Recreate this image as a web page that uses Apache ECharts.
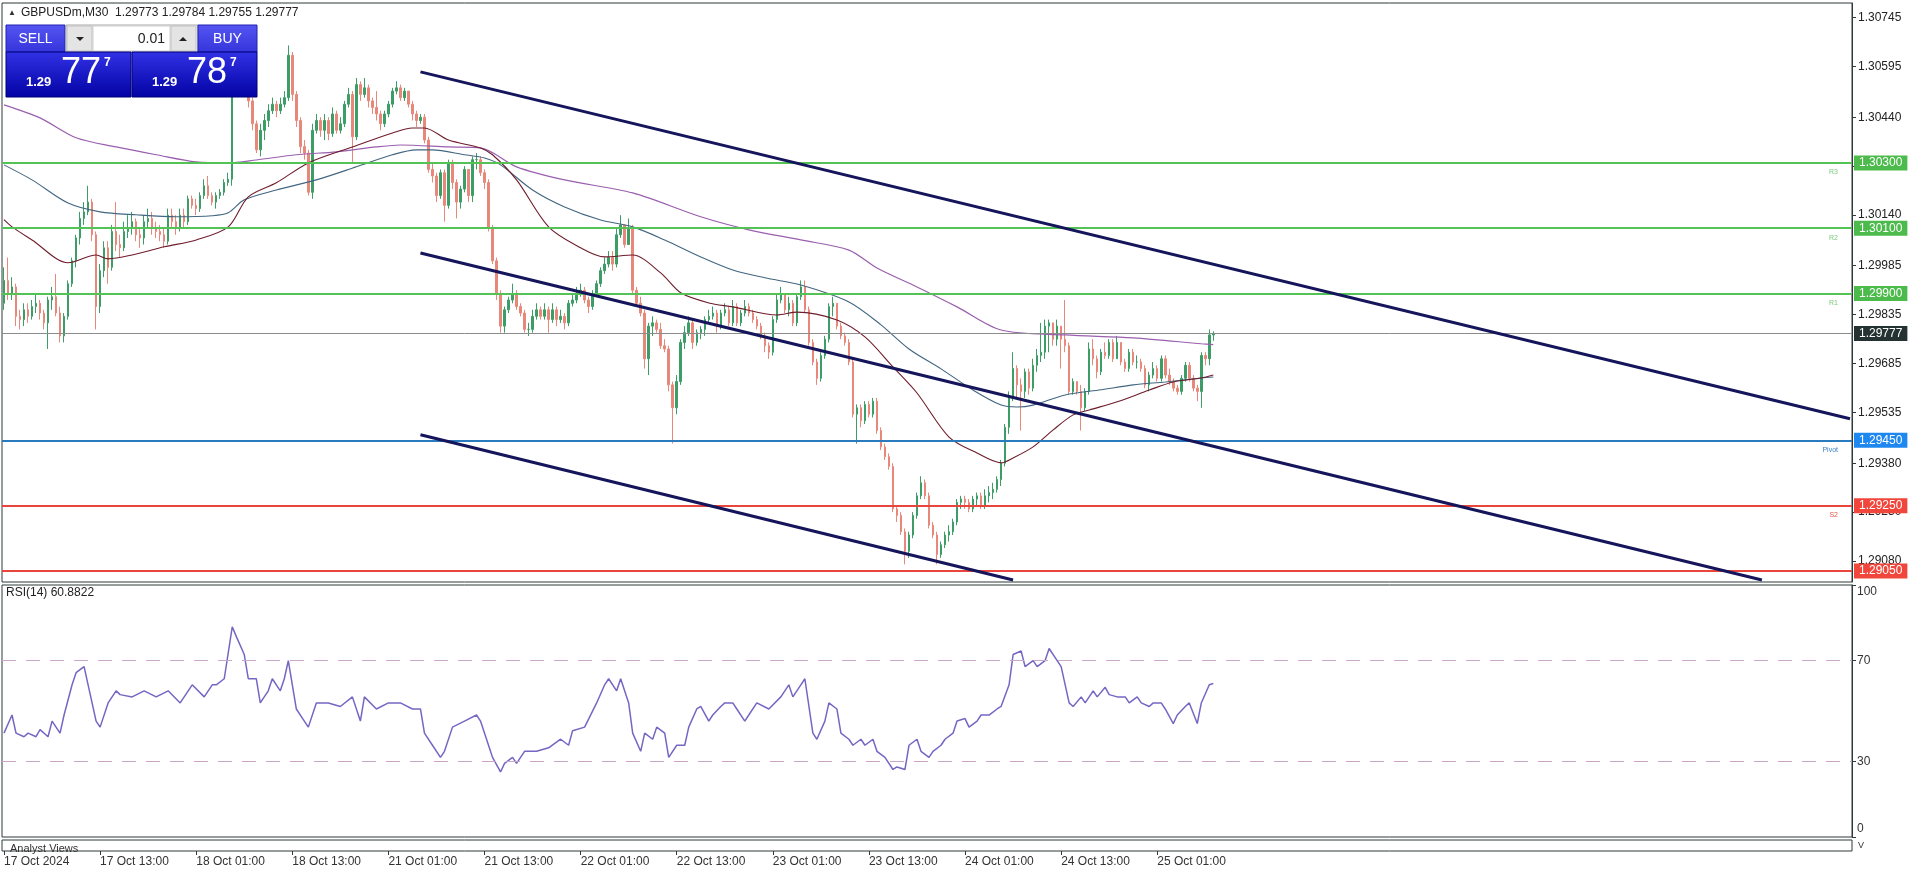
<!DOCTYPE html>
<html><head><meta charset="utf-8">
<script src="https://cdn.jsdelivr.net/npm/echarts@6/dist/echarts.min.js"></script>
<style>html,body{margin:0;padding:0;background:#fff;overflow:hidden}#c{width:1916px;height:874px}</style>
</head><body><div id="c"></div>
<script>
// ---------------- DATA ----------------
const symbolTitle = 'GBPUSDm,M30  1.29773 1.29784 1.29755 1.29777';
const rsiTitle = 'RSI(14) 60.8822';
const tickBars = [0, 24, 48, 72, 96, 120, 144, 168, 192, 216, 240, 264, 288];
const tickLabels = ['17 Oct 2024', '17 Oct 13:00', '18 Oct 01:00', '18 Oct 13:00', '21 Oct 01:00', '21 Oct 13:00',
  '22 Oct 01:00', '22 Oct 13:00', '23 Oct 01:00', '23 Oct 13:00', '24 Oct 01:00', '24 Oct 13:00', '25 Oct 01:00'];
const priceTicks = [1.30745, 1.30595, 1.30440, 1.30290, 1.30140, 1.29985, 1.29835, 1.29685, 1.29535, 1.29380, 1.29230, 1.29080];
const rsiTicks = [0, 30, 70, 100];

const firstOpen = 1.2987;
const closes = [
1.2994,1.2990,1.2992,1.2983,1.2982,1.2985,1.2983,1.2986,1.2987,1.2984,
1.2981,1.2988,1.2989,1.2984,1.2977,1.2983,1.2993,1.3000,1.3007,1.3013,
1.3015,1.3018,1.3008,1.2986,1.2997,1.3004,1.2998,1.3009,1.3005,1.3004,
1.3009,1.3010,1.3012,1.3008,1.3007,1.3012,1.3013,1.3010,1.3009,1.3008,
1.3006,1.3014,1.3012,1.3010,1.3014,1.3012,1.3019,1.3017,1.3016,1.3020,
1.3023,1.3020,1.3018,1.3020,1.3021,1.3024,1.3025,1.3056,1.3061,1.3058,
1.3054,1.3049,1.3042,1.3034,1.3040,1.3043,1.3046,1.3048,1.3046,1.3048,
1.3050,1.3063,1.3051,1.3043,1.3035,1.3033,1.3021,1.3040,1.3043,1.3040,
1.3043,1.3039,1.3045,1.3040,1.3042,1.3048,1.3051,1.3038,1.3054,1.3051,
1.3053,1.3049,1.3047,1.3045,1.3042,1.3045,1.3048,1.3052,1.3053,1.3050,
1.3052,1.3048,1.3045,1.3043,1.3044,1.3037,1.3028,1.3026,1.3020,1.3027,
1.3017,1.3030,1.3024,1.3018,1.3022,1.3028,1.3020,1.3031,1.3031,1.3027,
1.3024,1.3010,1.3000,1.2990,1.2980,1.2985,1.2988,1.2990,1.2986,1.2984,
1.2979,1.2979,1.2983,1.2985,1.2983,1.2985,1.2982,1.2985,1.2982,1.2983,
1.2981,1.2987,1.2988,1.2990,1.2991,1.2988,1.2986,1.2990,1.2993,1.2997,
1.2999,1.3001,1.2999,1.3008,1.3011,1.3005,1.3010,1.2991,1.2987,1.2984,
1.2970,1.2980,1.2981,1.2979,1.2974,1.2973,1.2962,1.2955,1.2963,1.2975,
1.2978,1.2981,1.2975,1.2978,1.2979,1.2982,1.2983,1.2984,1.2980,1.2984,
1.2985,1.2981,1.2986,1.2981,1.2984,1.2986,1.2984,1.2982,1.2980,1.2977,
1.2974,1.2972,1.2982,1.2988,1.2990,1.2985,1.2987,1.2981,1.2989,1.2992,
1.2985,1.2975,1.2969,1.2964,1.2971,1.2976,1.2986,1.2987,1.2980,1.2977,
1.2975,1.2969,1.2953,1.2955,1.2951,1.2956,1.2953,1.2957,1.2948,1.2943,
1.2940,1.2937,1.2924,1.2922,1.2917,1.2911,1.2916,1.2922,1.2928,1.2932,
1.2928,1.2919,1.2916,1.2910,1.2913,1.2916,1.2917,1.2920,1.2926,1.2927,
1.2926,1.2924,1.2927,1.2928,1.2925,1.2928,1.2929,1.2930,1.2933,1.2938,
1.2949,1.2958,1.2967,1.2962,1.2960,1.2966,1.2961,1.2968,1.2971,1.2972,
1.2980,1.2981,1.2976,1.2980,1.2976,1.2974,1.2960,1.2963,1.2960,1.2955,
1.2960,1.2973,1.2970,1.2966,1.2972,1.2971,1.2975,1.2970,1.2975,1.2969,
1.2967,1.2972,1.2969,1.2969,1.2967,1.2962,1.2965,1.2967,1.2964,1.2970,
1.2965,1.2963,1.2961,1.2960,1.2964,1.2968,1.2964,1.2961,1.2960,1.2971,
1.2970,1.29773,1.29777];
const highs = [
1.2998,1.3001,1.2995,1.2993,1.2985,1.2987,1.2987,1.2988,1.2990,1.2988,
1.2985,1.2989,1.2992,1.2996,1.2986,1.2984,1.2994,1.3001,1.3008,1.3015,
1.3018,1.3023,1.3019,1.3009,1.2999,1.3006,1.3006,1.3011,1.3018,1.3008,
1.3012,1.3014,1.3015,1.3013,1.3010,1.3014,1.3016,1.3015,1.3012,1.3011,
1.3010,1.3016,1.3016,1.3014,1.3016,1.3016,1.3020,1.3020,1.3019,1.3021,
1.3025,1.3026,1.3021,1.3021,1.3022,1.3025,1.3027,1.3058,1.3064,1.3063,
1.3060,1.3055,1.3050,1.3043,1.3042,1.3045,1.3048,1.3050,1.3049,1.3050,
1.3052,1.3066,1.3064,1.3052,1.3044,1.3037,1.3034,1.3042,1.3045,1.3044,
1.3045,1.3044,1.3047,1.3046,1.3044,1.3049,1.3053,1.3052,1.3056,1.3055,
1.3056,1.3054,1.3050,1.3052,1.3046,1.3046,1.3049,1.3053,1.3055,1.3054,
1.3053,1.3052,1.3049,1.3046,1.3045,1.3045,1.3038,1.3030,1.3027,1.3028,
1.3028,1.3031,1.3031,1.3025,1.3023,1.3029,1.3028,1.3032,1.3033,1.3032,
1.3028,1.3025,1.3011,1.3001,1.2991,1.2986,1.2989,1.2993,1.2991,1.2987,
1.2985,1.2981,1.2985,1.2987,1.2986,1.2987,1.2986,1.2987,1.2986,1.2985,
1.2984,1.2988,1.2990,1.2992,1.2993,1.2992,1.2989,1.2991,1.2994,1.2998,
1.3001,1.3003,1.3003,1.3010,1.3014,1.3011,1.3013,1.3011,1.2992,1.2989,
1.2985,1.2981,1.2983,1.2982,1.2981,1.2976,1.2974,1.2963,1.2965,1.2976,
1.2980,1.2983,1.2982,1.2979,1.2980,1.2983,1.2985,1.2986,1.2985,1.2985,
1.2987,1.2986,1.2988,1.2987,1.2985,1.2988,1.2987,1.2985,1.2983,1.2981,
1.2978,1.2975,1.2983,1.2990,1.2992,1.2990,1.2989,1.2988,1.2990,1.2994,
1.2994,1.2986,1.2976,1.2970,1.2972,1.2977,1.2987,1.2989,1.2987,1.2981,
1.2978,1.2976,1.2970,1.2956,1.2956,1.2957,1.2957,1.2958,1.2958,1.2949,
1.2944,1.2941,1.2938,1.2925,1.2923,1.2918,1.2917,1.2923,1.2929,1.2934,
1.2933,1.2929,1.2920,1.2917,1.2914,1.2917,1.2919,1.2921,1.2927,1.2928,
1.2928,1.2927,1.2928,1.2929,1.2929,1.2930,1.2931,1.2932,1.2934,1.2939,
1.2950,1.2960,1.2972,1.2968,1.2964,1.2967,1.2967,1.2970,1.2973,1.2981,
1.2982,1.2982,1.2981,1.2982,1.2980,1.2988,1.2975,1.2964,1.2963,1.2962,
1.2961,1.2975,1.2976,1.2971,1.2973,1.2975,1.2976,1.2976,1.2977,1.2975,
1.2970,1.2973,1.2973,1.2971,1.2970,1.2968,1.2966,1.2969,1.2968,1.2971,
1.2971,1.2967,1.2964,1.2962,1.2965,1.2969,1.2969,1.2965,1.2962,1.2972,
1.2972,1.2979,1.29784];
const lows = [
1.2985,1.2988,1.2988,1.2980,1.2979,1.2980,1.2981,1.2982,1.2984,1.2982,
1.2979,1.2973,1.2985,1.2983,1.2975,1.2975,1.2982,1.2992,1.2998,1.3005,
1.3011,1.3014,1.3006,1.2979,1.2984,1.2995,1.2993,1.2997,1.3003,1.3001,
1.3003,1.3007,1.3008,1.3006,1.3004,1.3005,1.3010,1.3008,1.3007,1.3006,
1.3004,1.3005,1.3010,1.3008,1.3009,1.3010,1.3011,1.3016,1.3014,1.3015,
1.3019,1.3019,1.3017,1.3016,1.3019,1.3020,1.3023,1.3023,1.3054,1.3055,
1.3051,1.3047,1.3040,1.3033,1.3032,1.3037,1.3041,1.3045,1.3044,1.3045,
1.3047,1.3049,1.3049,1.3041,1.3033,1.3031,1.3020,1.3019,1.3039,1.3038,
1.3037,1.3037,1.3038,1.3039,1.3039,1.3041,1.3047,1.3030,1.3037,1.3049,
1.3050,1.3047,1.3045,1.3043,1.3040,1.3041,1.3044,1.3047,1.3051,1.3049,
1.3049,1.3047,1.3043,1.3041,1.3042,1.3036,1.3027,1.3024,1.3018,1.3019,
1.3012,1.3016,1.3022,1.3013,1.3016,1.3021,1.3018,1.3018,1.3028,1.3026,
1.3022,1.3009,1.2999,1.2988,1.2978,1.2978,1.2984,1.2987,1.2985,1.2983,
1.2978,1.2977,1.2978,1.2982,1.2982,1.2982,1.2978,1.2981,1.2980,1.2981,
1.2979,1.2980,1.2986,1.2987,1.2989,1.2987,1.2984,1.2985,1.2989,1.2992,
1.2996,1.2998,1.2997,1.2998,1.3007,1.3004,1.3005,1.2990,1.2986,1.2983,
1.2967,1.2965,1.2977,1.2978,1.2973,1.2972,1.2960,1.2944,1.2953,1.2962,
1.2973,1.2977,1.2973,1.2974,1.2976,1.2977,1.2981,1.2982,1.2978,1.2979,
1.2983,1.2980,1.2980,1.2980,1.2980,1.2983,1.2983,1.2981,1.2979,1.2976,
1.2972,1.2970,1.2971,1.2981,1.2987,1.2984,1.2983,1.2980,1.2980,1.2988,
1.2984,1.2974,1.2968,1.2962,1.2963,1.2970,1.2975,1.2983,1.2979,1.2976,
1.2974,1.2968,1.2952,1.2944,1.2949,1.2950,1.2952,1.2952,1.2947,1.2942,
1.2939,1.2936,1.2923,1.2920,1.2916,1.2907,1.2909,1.2915,1.2921,1.2927,
1.2927,1.2918,1.2915,1.2907,1.2909,1.2912,1.2914,1.2916,1.2919,1.2924,
1.2924,1.2923,1.2923,1.2925,1.2924,1.2924,1.2926,1.2927,1.2929,1.2931,
1.2937,1.2947,1.2957,1.2958,1.2948,1.2958,1.2959,1.2960,1.2966,1.2969,
1.2970,1.2972,1.2974,1.2974,1.2967,1.2972,1.2959,1.2959,1.2959,1.2948,
1.2954,1.2959,1.2968,1.2964,1.2965,1.2970,1.2970,1.2969,1.2970,1.2968,
1.2966,1.2966,1.2968,1.2967,1.2966,1.2961,1.2960,1.2964,1.2963,1.2963,
1.2964,1.2962,1.2960,1.2959,1.2959,1.2963,1.2963,1.2960,1.2957,1.2955,
1.2968,1.2968,1.29755];

const maFast = [[0,1.30126],[2,1.30104],[7,1.30064],[16,1.29994],[23,1.30018],[26,1.30006],[32,1.30018],[40,1.30043],[48,1.30064],[56,1.30104],[61,1.30196],[68,1.30239],[76,1.30300],[87,1.30349],[97,1.30392],[102,1.30407],[105,1.30407],[111,1.30370],[119,1.30346],[122,1.30325],[128,1.30248],[136,1.30104],[144,1.30040],[150,1.30012],[157,1.30018],[164,1.29963],[169,1.29902],[176,1.29871],[182,1.29859],[193,1.29834],[198,1.29843],[208,1.29819],[215,1.29767],[222,1.29675],[228,1.29595],[236,1.29460],[243,1.29411],[249,1.29381],[252,1.29396],[257,1.29430],[262,1.29482],[267,1.29528],[271,1.29543],[278,1.29568],[286,1.29604],[292,1.29629],[299,1.29641],[302,1.29650]];
const maMid = [[0,1.30294],[7,1.30248],[16,1.30177],[24,1.30150],[33,1.30141],[43,1.30135],[52,1.30138],[56,1.30147],[60,1.30187],[68,1.30217],[78,1.30248],[88,1.30288],[97,1.30325],[103,1.30340],[107,1.30340],[115,1.30325],[120,1.30315],[124,1.30294],[132,1.30217],[140,1.30165],[149,1.30125],[157,1.30104],[165,1.30064],[174,1.30012],[182,1.29972],[190,1.29948],[199,1.29926],[211,1.29874],[219,1.29804],[226,1.29730],[234,1.29669],[242,1.29604],[249,1.29558],[253,1.29552],[257,1.29558],[265,1.29589],[274,1.29605],[282,1.29620],[290,1.29629],[299,1.29641],[302,1.29644]];
const maSlow = [[0,1.30478],[9,1.30438],[18,1.30377],[28,1.30349],[38,1.30325],[48,1.30303],[56,1.30300],[63,1.30309],[73,1.30325],[83,1.30334],[93,1.30349],[99,1.30355],[111,1.30349],[119,1.30346],[128,1.30288],[140,1.30248],[157,1.30208],[174,1.30135],[186,1.30095],[199,1.30064],[211,1.30033],[218,1.29978],[228,1.29920],[238,1.29859],[249,1.29788],[265,1.29773],[282,1.29764],[299,1.29746],[302,1.29743]];

const channelUpper = [[104, 1.30579], [461, 1.29516]];
const channelMiddle = [[104, 1.30024], [439, 1.29022]];
const channelLower = [[104, 1.29467], [252, 1.29022]];

const levelValues = [1.30300, 1.30100, 1.29900, 1.29777, 1.29450, 1.29250, 1.29050];
const levelNames = ['R3', 'R2', 'R1', '', 'Pivot', 'S2', ''];
const levelKinds = ['resistance', 'resistance', 'resistance', 'price', 'pivot', 'support', 'support'];

const rsiBars = [0,2,3,5,6,8,9,11,12,14,15,17,18,20,21,23,24,26,28,29,32,35,38,41,44,46,47,50,52,53,55,57,58,60,61,63,64,66,67,69,70,71,73,75,76,78,81,84,87,89,90,93,96,99,102,104,105,107,109,110,112,115,118,119,121,122,124,125,127,128,130,133,136,139,141,142,145,148,150,151,153,154,156,157,159,160,162,163,165,166,168,170,171,173,174,176,177,179,180,182,183,185,186,188,191,194,196,197,199,200,202,203,205,206,208,209,211,212,214,215,217,218,220,222,223,225,226,228,229,231,232,234,235,237,238,240,241,243,244,246,248,249,251,252,254,255,257,258,260,261,263,264,266,267,269,270,272,273,275,276,278,280,281,283,284,286,287,289,290,292,293,295,296,298,299,301,302];
const rsiValues = [41.2,48.4,41.2,39.8,41.2,39.8,42.6,39.8,46.0,41.2,48.4,60.4,65.2,67.6,60.4,46.0,43.6,53.2,58.0,56.5,55.6,58.0,55.6,58.0,53.2,58.0,60.4,55.6,60.4,60.4,62.8,83.4,79.6,72.4,62.8,62.8,53.2,58.0,62.8,58.0,62.8,70.0,50.8,46.0,43.6,53.2,53.2,51.8,55.6,46.0,55.6,50.8,53.2,53.2,50.8,50.8,41.2,36.4,31.6,34.0,43.6,46.0,48.4,46.0,36.4,31.6,25.8,29.2,31.6,29.2,34.0,34.0,35.4,38.8,36.4,42.2,43.6,53.2,60.4,62.8,58.0,62.8,53.2,41.2,34.0,41.2,38.8,43.6,41.2,31.6,36.4,36.4,43.6,50.8,51.8,46.0,48.4,51.8,53.2,53.2,50.8,46.0,48.4,53.2,50.8,55.6,60.4,55.6,60.4,62.8,41.2,38.8,46.0,53.2,50.8,41.2,38.8,36.4,38.8,36.4,38.8,34.0,31.6,26.8,27.8,26.8,36.4,38.8,34.0,31.6,34.0,36.4,38.8,41.2,46.0,47.0,43.6,46.0,48.4,48.4,50.8,51.8,60.4,72.4,73.8,67.6,70.0,67.6,70.0,74.8,70.0,67.6,53.2,51.8,55.6,53.2,58.0,55.6,59.4,56.5,55.6,55.6,53.2,55.6,53.2,51.8,53.2,53.2,50.8,45.0,48.4,51.8,53.2,45.0,53.2,60.4,60.88];

// ---------------- STYLES ----------------
const FONT = '"Liberation Sans", Arial, sans-serif';
const BULL = '#3c9d66', BEAR = '#e8887a';
const FRAME = '#2f3b3b';
const LEVEL_STYLE = {
  resistance: {line: '#55c255', box: '#4cbb4c', text: '#7bc97b', width: 2},
  price: {line: '#8c8c8c', box: '#253232', text: '#666', width: 1},
  pivot: {line: '#2a7bbd', box: '#1e88f0', text: '#3a82c6', width: 2},
  support: {line: '#e8463c', box: '#f0463b', text: '#e0564c', width: 2}
};
const NCAT = 462;
// RSI axis text sits just inside the pane at the extremes (as in the terminal)
const rsiLabelSpots = [3.2, 30, 70, 97.2];

// ---------------- BUILD ----------------
const categories = Array.from({length: NCAT}, (_, i) => String(i));
const candleData = closes.map((c, i) => {
  const o = i === 0 ? firstOpen : closes[i - 1];
  return [o, c, Math.min(lows[i], o, c), Math.max(highs[i], o, c)];
});
const rsiData = rsiBars.map((b, i) => [b, rsiValues[i]]);

const levelLines = [];
levelValues.forEach((v, i) => {
  const st = LEVEL_STYLE[levelKinds[i]];
  levelLines.push({
    yAxis: v,
    lineStyle: {color: st.line, width: st.width, type: 'solid'},
    label: {show: true, position: 'end', formatter: v.toFixed(5), color: '#fff',
      backgroundColor: st.box, padding: [2, 5, 1, 5], fontSize: 12, fontFamily: FONT, distance: 2}
  });
  if (levelNames[i]) {
    levelLines.push({
      yAxis: v,
      lineStyle: {color: 'rgba(0,0,0,0)', width: 1},
      label: {show: true, position: 'insideEndBottom', formatter: levelNames[i], color: st.text,
        fontSize: 7, fontFamily: FONT, distance: [14, 6]}
    });
  }
});

const tickSet = new Set(tickBars);
const isTick = (idx) => tickSet.has(idx);

const chart = echarts.init(document.getElementById('c'), null, {renderer: 'canvas'});
const G = echarts.graphic;
const btnGrad = new G.LinearGradient(0, 0, 0, 1, [{offset: 0, color: '#5656f2'}, {offset: 1, color: '#3434dc'}]);
const boxGrad = new G.LinearGradient(0, 0, 0, 1, [{offset: 0, color: '#3232e6'}, {offset: 1, color: '#0202a4'}]);
const boxGrad2 = new G.LinearGradient(0, 0, 0, 1, [{offset: 0, color: '#3232e6'}, {offset: 1, color: '#0202a4'}]);
function txt(x, y, text, font, fill, align, valign) {
  return {type: 'text', x: x, y: y, z: 100, silent: true,
    style: {text: text, font: font, fill: fill, textAlign: align || 'left', textVerticalAlign: valign || 'middle', align: align || 'left', verticalAlign: valign || 'middle'}};
}
function rect(x, y, w, h, fill, stroke) {
  return {type: 'rect', z: 99, silent: true, shape: {x: x, y: y, width: w, height: h}, style: {fill: fill, stroke: stroke || null, lineWidth: 1}};
}

const option = {
  animation: false,
  backgroundColor: '#ffffff',
  textStyle: {fontFamily: FONT},
  grid: [
    {left: 2, right: 64, top: 3, height: 579, show: true, borderColor: FRAME, borderWidth: 1, backgroundColor: '#fff'},
    {left: 2, right: 64, top: 585, height: 252, show: true, borderColor: FRAME, borderWidth: 1},
    {left: 2, right: 64, top: 840, height: 11, show: true, borderColor: FRAME, borderWidth: 1}
  ],
  xAxis: [
    {gridIndex: 0, type: 'category', data: categories, boundaryGap: true, show: false},
    {gridIndex: 1, type: 'category', data: categories, boundaryGap: true, show: false},
    {gridIndex: 2, type: 'category', data: categories, boundaryGap: true,
      axisLine: {show: false},
      axisTick: {show: true, interval: isTick, alignWithLabel: true, length: 4, lineStyle: {color: FRAME}},
      axisLabel: {show: true, interval: isTick, align: 'left', margin: 5, color: '#333', fontSize: 12, fontFamily: FONT,
        formatter: (v, idx) => { const k = tickBars.indexOf(idx); return k >= 0 ? tickLabels[k] : ''; }},
      splitLine: {show: false}}
  ],
  yAxis: [
    {gridIndex: 0, type: 'value', position: 'right', min: 1.29016, max: 1.30790, scale: true,
      axisLine: {show: true, lineStyle: {color: FRAME}},
      axisTick: {show: true, length: 4, lineStyle: {color: FRAME}, customValues: priceTicks},
      axisLabel: {customValues: priceTicks, formatter: v => v.toFixed(5), color: '#222', fontSize: 12, margin: 6, fontFamily: FONT},
      splitLine: {show: false}},
    {gridIndex: 1, type: 'value', position: 'right', min: 0, max: 100,
      axisLine: {show: true, lineStyle: {color: FRAME}},
      axisTick: {show: true, length: 4, lineStyle: {color: FRAME}, customValues: rsiTicks},
      axisLabel: {customValues: rsiLabelSpots, color: '#333', fontSize: 12, margin: 5, fontFamily: FONT,
        formatter: v => (v > 90 ? '100' : v < 10 ? '0' : String(Math.round(v)))},
      splitLine: {show: false}},
    {gridIndex: 2, type: 'value', position: 'right', min: 0, max: 1, show: false}
  ],
  series: [
    {type: 'candlestick', name: 'GBPUSD', xAxisIndex: 0, yAxisIndex: 0, data: candleData, barWidth: 2, z: 3,
      itemStyle: {color: BULL, color0: BEAR, borderColor: BULL, borderColor0: BEAR, borderWidth: 1}},
    {type: 'line', name: 'Levels', xAxisIndex: 0, yAxisIndex: 0, data: [[0, null]], showSymbol: false, z: 5,
      lineStyle: {opacity: 0},
      markLine: {symbol: 'none', silent: true, animation: false, precision: 5, data: levelLines}},
    {type: 'line', name: 'MA slow', xAxisIndex: 0, yAxisIndex: 0, data: maSlow, smooth: 0.3, showSymbol: false, z: 4,
      lineStyle: {color: '#9a5fae', width: 1.2}},
    {type: 'line', name: 'MA mid', xAxisIndex: 0, yAxisIndex: 0, data: maMid, smooth: 0.3, showSymbol: false, z: 4,
      lineStyle: {color: '#426680', width: 1.1}},
    {type: 'line', name: 'MA fast', xAxisIndex: 0, yAxisIndex: 0, data: maFast, smooth: 0.3, showSymbol: false, z: 4,
      lineStyle: {color: '#6e1c2b', width: 1.1}},
    {type: 'line', name: 'Channel upper', xAxisIndex: 0, yAxisIndex: 0, data: channelUpper, showSymbol: false, z: 6,
      lineStyle: {color: '#15155c', width: 3}},
    {type: 'line', name: 'Channel middle', xAxisIndex: 0, yAxisIndex: 0, data: channelMiddle, showSymbol: false, z: 6,
      lineStyle: {color: '#15155c', width: 3}},
    {type: 'line', name: 'Channel lower', xAxisIndex: 0, yAxisIndex: 0, data: channelLower, showSymbol: false, z: 6,
      lineStyle: {color: '#15155c', width: 3}},
    {type: 'line', name: 'RSI', xAxisIndex: 1, yAxisIndex: 1, data: rsiData, showSymbol: false, z: 4,
      lineStyle: {color: '#7467c3', width: 1.5},
      markLine: {symbol: 'none', silent: true, animation: false, precision: 2, label: {show: false},
        lineStyle: {color: '#caa6ca', type: [14, 10], width: 1},
        data: [{yAxis: 70}, {yAxis: 30}]}}
  ],
  graphic: [
    txt(8, 12.5, '\u25B2', '8px ' + FONT, '#333'),
    txt(21, 12.5, symbolTitle, '12px ' + FONT, '#222'),
    txt(6, 593, rsiTitle, '12px ' + FONT, '#222'),
    txt(10, 849, 'Analyst Views', '11px ' + FONT, '#333'),
    rect(8, 852, 90, 3.5, '#fff'),
    txt(1858, 846, 'V', '9px ' + FONT, '#333'),
    // trade panel
    rect(6, 25, 59, 27, btnGrad, '#2222b4'),
    txt(35.5, 39, 'SELL', '14px ' + FONT, '#fff', 'center'),
    rect(66, 25, 132, 27, '#f2f2f2', '#a8a8a8'),
    rect(67, 26, 25, 25, '#e4e4e4', '#c2c2c2'),
    rect(93, 26, 77, 25, '#ffffff', '#cfcfcf'),
    rect(171, 26, 25, 25, '#e4e4e4', '#c2c2c2'),
    {type: 'polygon', z: 100, silent: true, shape: {points: [[76, 37], [84, 37], [80, 41]]}, style: {fill: '#222'}},
    {type: 'polygon', z: 100, silent: true, shape: {points: [[179, 41], [187, 41], [183, 37]]}, style: {fill: '#222'}},
    txt(165, 39, '0.01', '14px ' + FONT, '#222', 'right'),
    rect(198, 25, 59, 27, btnGrad, '#2222b4'),
    txt(227.5, 39, 'BUY', '14px ' + FONT, '#fff', 'center'),
    rect(6, 52, 125, 45, boxGrad, '#00007a'),
    rect(132, 52, 125, 45, boxGrad2, '#00007a'),
    txt(26, 82, '1.29', 'bold 13px ' + FONT, '#fff'),
    txt(61, 73, '77', '36px ' + FONT, '#fff'),
    txt(104, 63, '7', 'bold 12px ' + FONT, '#fff'),
    txt(152, 82, '1.29', 'bold 13px ' + FONT, '#fff'),
    txt(187, 73, '78', '36px ' + FONT, '#fff'),
    txt(230, 63, '7', 'bold 12px ' + FONT, '#fff')
  ]
};
chart.setOption(option);
</script>
</body></html>
